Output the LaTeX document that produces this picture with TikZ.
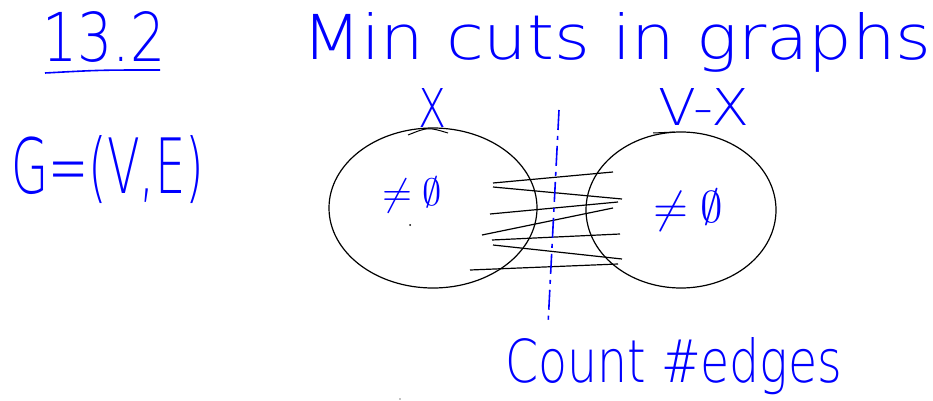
\documentclass[tikz,border=0pt]{standalone}
\usepackage{fontspec}
\usepackage{graphicx}
\newfontfamily\handfont{DejaVu Sans ExtraLight}
\usetikzlibrary{shapes.geometric}
\newcommand{\fitto}[3]{\resizebox{#1pt}{#2pt}{\handfont #3}}

\begin{document}
\begin{tikzpicture}
  [x=1pt,y=-1pt,
   hand/.style={text=blue,inner sep=0pt,anchor=base west},
   blob/.style={ellipse,draw=black,line width=1.2pt,inner sep=0pt},
   edge/.style={draw=black,line width=1.2pt},
   cutline/.style={draw=blue,line width=1.6pt,dash pattern=on 20pt off 6pt on 4pt off 6pt}]
  \useasboundingbox (0,0) rectangle (933,401);

  % headings
  \node (sec) [hand] at (42,62) {\fitto{123}{50}{13.2}};
  \draw [blue,line width=1.6pt] (45,73) .. controls (100,70) .. (160,70);
  \node (title) [hand] at (302,60) {\fitto{629}{47}{Min cuts in graphs}};
  \node (graph) [hand] at (11,193) {\fitto{193}{58}{G=(V,E)}};

  % the two sides of the cut
  \node (setX) [blob,minimum width=208pt,minimum height=160pt] at (433,208) {};
  \node (setVX) [blob,minimum width=190pt,minimum height=156pt] at (681,210) {};
  \draw [line width=1pt] (408,135) .. controls (428,127) .. (448,133);
  \draw [line width=1pt] (653,133) -- (675,132);
  \node (lblX) [hand,anchor=base] at (432,127) {\fitto{28}{39}{X}};
  \node (lblVX) [hand,anchor=base] at (704,125) {\fitto{90}{37}{V-X}};
  \node (neqL) [text=blue] at (412,195) {\resizebox*{60pt}{36pt}{$\neq\emptyset$}};
  \node (neqR) [text=blue] at (688,210) {\resizebox*{70pt}{42pt}{$\neq\emptyset$}};
  \fill (410,225) circle (1pt);
  \fill (400,399) circle (0.7pt);

  % crossing edges
  \foreach \i/\xa/\ya/\xb/\yb in {1/493/183/613/172, 2/493/187/622/199,
      3/490/214/618/202, 4/482/235/613/208, 5/492/240/620/234,
      6/493/245/622/259, 7/470/270/618/264}
  {
    \coordinate (l\i) at (\xa,\ya);
    \coordinate (r\i) at (\xb,\yb);
  }
  \foreach \i in {1,...,7}
    \draw [edge] (l\i) -- (r\i);

  % the cut
  \coordinate (cutTop) at (559,110);
  \coordinate (cutBot) at (548,325);
  \draw [cutline] (cutTop) -- (cutBot);
  \node (count) [hand] at (505,382) {\fitto{337}{45}{Count \#edges}};

\end{tikzpicture}
\end{document}
